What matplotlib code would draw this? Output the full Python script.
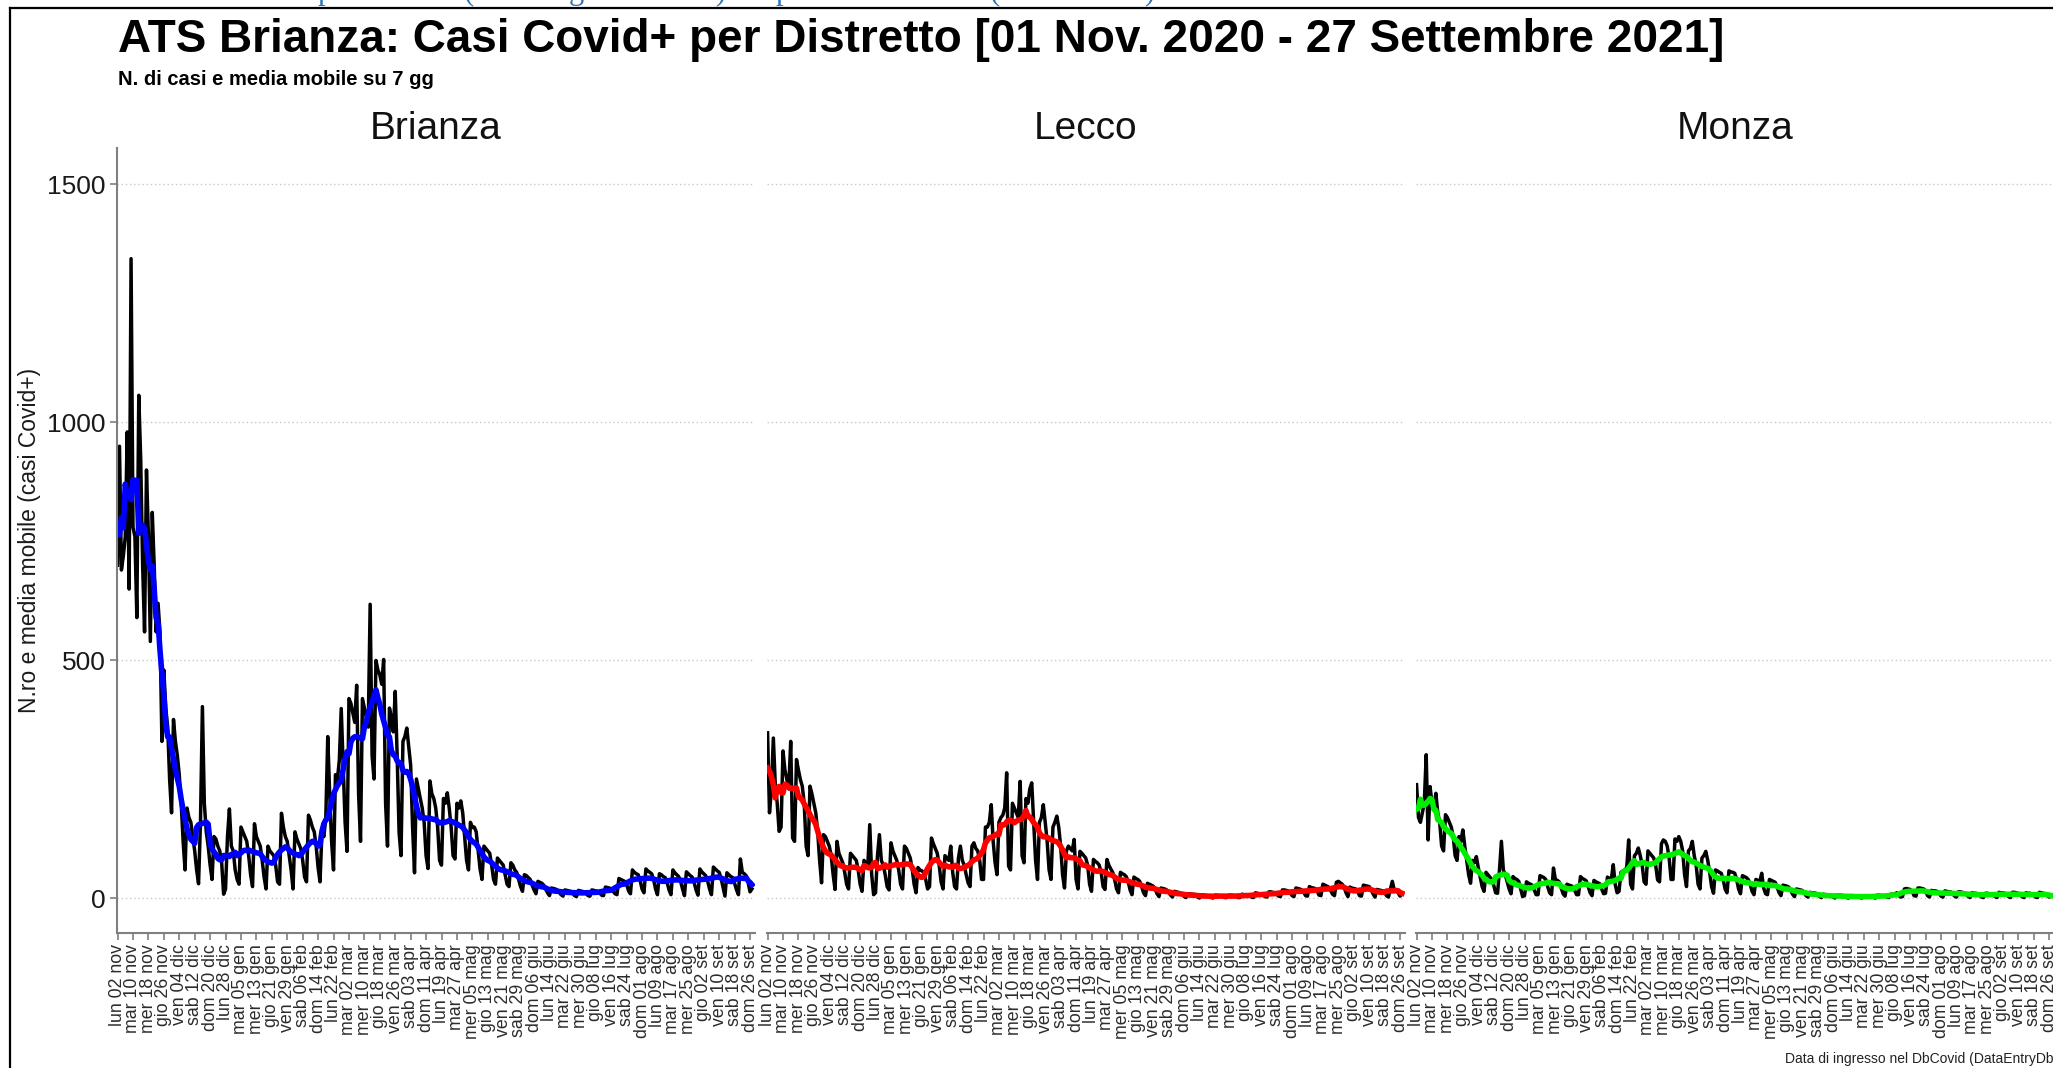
import matplotlib
matplotlib.use('Agg')
import matplotlib.pyplot as plt
from matplotlib.lines import Line2D
import pandas as pd

plt.rcParams['font.family'] = ['Liberation Sans', 'DejaVu Sans']

# casi giornalieri (da lun 02 nov 2020), una riga = una settimana lun..dom
brianza = [
    700, 950, 690, 720, 760, 980, 650,
    1344, 780, 760, 590, 1057, 923, 700,
    560, 900, 760, 540, 811, 700, 560,
    620, 560, 330, 480, 400, 360, 250,
    180, 376, 330, 300, 260, 200, 120,
    60, 190, 170, 160, 130, 100, 60,
    31, 160, 403, 200, 140, 110, 70,
    40, 130, 125, 110, 100, 75, 9,
    20, 130, 188, 110, 100, 60, 40,
    30, 150, 140, 130, 120, 90, 50,
    25, 157, 130, 120, 110, 80, 45,
    20, 110, 100, 95, 90, 70, 35,
    30, 179, 150, 130, 120, 90, 60,
    20, 140, 125, 115, 105, 80, 45,
    35, 175, 165, 150, 140, 110, 65,
    35, 140, 130, 170, 340, 220, 120,
    60, 260, 250, 290, 399, 280, 160,
    99, 420, 410, 390, 370, 448, 220,
    120, 420, 400, 380, 360, 618, 300,
    251, 500, 480, 470, 450, 502, 200,
    110, 400, 380, 350, 435, 300, 139,
    90, 330, 340, 358, 320, 280, 150,
    54, 251, 230, 210, 190, 160, 90,
    63, 247, 220, 210, 190, 150, 80,
    70, 210, 200, 222, 190, 150, 90,
    83, 200, 190, 205, 180, 130, 80,
    60, 160, 149, 150, 140, 100, 62,
    40, 110, 105, 100, 95, 70, 40,
    30, 85, 80, 75, 70, 50, 30,
    25, 75, 70, 60, 55, 40, 25,
    15, 50, 48, 44, 40, 28, 18,
    10, 36, 34, 32, 28, 20, 12,
    6, 22, 21, 20, 18, 13, 8,
    5, 18, 17, 16, 15, 11, 6,
    4, 17, 16, 15, 14, 10, 6,
    5, 18, 17, 16, 15, 12, 7,
    6, 24, 23, 22, 20, 15, 10,
    8, 42, 40, 38, 36, 30, 16,
    10, 60, 55, 52, 50, 38, 20,
    12, 62, 58, 55, 52, 40, 20,
    8, 52, 50, 46, 44, 34, 18,
    8, 60, 54, 50, 46, 36, 20,
    6, 56, 52, 48, 45, 34, 18,
    7, 62, 56, 52, 48, 37, 20,
    8, 66, 62, 58, 55, 42, 24,
    5, 54, 50, 46, 44, 32, 18,
    8, 83, 55, 52, 48, 34, 14,
    20]

lecco = [
    348, 180, 230, 337, 240, 200, 141,
    150, 310, 270, 250, 230, 330, 127,
    120, 292, 270, 250, 236, 200, 110,
    90, 236, 220, 200, 180, 140, 80,
    33, 134, 130, 120, 110, 90, 50,
    19, 120, 95, 85, 75, 55, 30,
    20, 95, 90, 85, 80, 60, 30,
    15, 80, 75, 70, 155, 50, 8,
    12, 90, 134, 80, 70, 50, 25,
    18, 117, 100, 90, 80, 60, 30,
    20, 110, 105, 95, 85, 62, 30,
    12, 65, 60, 58, 55, 40, 20,
    25, 127, 115, 105, 95, 70, 35,
    20, 90, 85, 80, 110, 55, 25,
    20, 85, 110, 80, 70, 50, 33,
    25, 110, 117, 105, 100, 80, 40,
    40, 150, 150, 160, 197, 120, 75,
    50, 160, 170, 175, 190, 264, 68,
    60, 200, 190, 180, 170, 246, 90,
    75, 210, 200, 230, 243, 160, 80,
    40, 160, 170, 197, 160, 120, 60,
    40, 150, 160, 173, 150, 110, 50,
    22, 100, 110, 105, 100, 124, 40,
    20, 99, 95, 90, 85, 70, 30,
    15, 82, 78, 75, 70, 55, 25,
    19, 82, 70, 62, 55, 40, 20,
    12, 55, 52, 50, 46, 36, 18,
    8, 45, 42, 40, 36, 25, 12,
    6, 32, 30, 28, 26, 20, 10,
    4, 22, 21, 20, 18, 13, 7,
    3, 15, 14, 13, 12, 9, 4,
    2, 10, 10, 9, 9, 6, 3,
    1, 8, 7, 7, 6, 4, 2,
    1, 7, 7, 6, 6, 5, 2,
    2, 7, 7, 7, 6, 4, 2,
    2, 9, 8, 8, 7, 5, 3,
    2, 12, 11, 10, 10, 7, 4,
    3, 14, 14, 13, 12, 9, 5,
    4, 18, 18, 17, 16, 12, 6,
    4, 22, 21, 20, 18, 14, 6,
    5, 25, 23, 22, 21, 16, 7,
    6, 30, 28, 26, 24, 17, 9,
    6, 34, 36, 33, 30, 24, 12,
    4, 24, 22, 21, 20, 15, 6,
    5, 28, 27, 26, 25, 19, 10,
    3, 19, 18, 17, 16, 12, 6,
    3, 20, 36, 18, 17, 12, 5,
    10]

monza = [
    239, 170, 160, 180, 200, 302, 123,
    235, 200, 190, 221, 180, 160, 110,
    100, 176, 170, 160, 150, 130, 90,
    80, 130, 120, 144, 110, 80, 50,
    32, 80, 75, 88, 65, 45, 25,
    15, 55, 50, 45, 40, 28, 12,
    11, 60, 120, 60, 50, 35, 20,
    10, 46, 42, 40, 36, 20, 4,
    6, 35, 32, 30, 28, 18, 8,
    8, 48, 46, 44, 40, 25, 12,
    8, 64, 40, 38, 35, 22, 10,
    5, 30, 28, 27, 25, 17, 8,
    8, 46, 42, 40, 37, 25, 12,
    6, 38, 35, 33, 31, 20, 10,
    11, 45, 42, 40, 71, 30, 12,
    15, 55, 58, 60, 65, 123, 30,
    20, 90, 95, 106, 90, 70, 35,
    30, 100, 95, 90, 85, 70, 39,
    35, 115, 123, 120, 110, 85, 40,
    40, 125, 120, 130, 120, 100, 50,
    25, 100, 105, 120, 90, 70, 30,
    20, 85, 90, 99, 80, 55, 25,
    11, 60, 58, 55, 53, 40, 20,
    12, 58, 56, 55, 53, 40, 20,
    10, 48, 46, 44, 40, 30, 15,
    8, 40, 38, 36, 53, 22, 10,
    8, 40, 38, 36, 34, 24, 12,
    6, 28, 27, 26, 24, 18, 9,
    4, 20, 19, 18, 17, 12, 6,
    3, 13, 12, 12, 11, 8, 4,
    2, 9, 8, 8, 7, 5, 3,
    1, 7, 7, 7, 6, 4, 2,
    1, 6, 6, 5, 5, 3, 2,
    1, 6, 5, 5, 5, 4, 2,
    1, 7, 7, 6, 6, 5, 3,
    2, 9, 9, 9, 12, 7, 3,
    4, 20, 21, 20, 19, 15, 6,
    5, 22, 22, 21, 20, 16, 6,
    3, 17, 16, 16, 15, 11, 5,
    3, 16, 15, 14, 14, 10, 5,
    3, 14, 14, 13, 12, 9, 5,
    2, 12, 11, 11, 10, 7, 3,
    2, 11, 11, 10, 10, 8, 4,
    2, 13, 12, 12, 11, 8, 4,
    2, 13, 13, 12, 11, 8, 4,
    2, 12, 11, 11, 10, 7, 3,
    2, 13, 12, 11, 10, 7, 3,
    5]

distretti = ['Brianza', 'Lecco', 'Monza']
serie = [brianza, lecco, monza]
colori = ['#0000ff', '#ff0000', '#00ee00']

giorni = ['lun', 'mar', 'mer', 'gio', 'ven', 'sab', 'dom']
mesi = ['gen', 'feb', 'mar', 'apr', 'mag', 'giu', 'lug', 'ago', 'set', 'ott', 'nov', 'dic']
tick_dates = pd.date_range('2020-11-02', '2021-09-26', freq='8D')
tick_labels = [f"{giorni[d.weekday()]} {d.day:02d} {mesi[d.month - 1]}" for d in tick_dates]

W, H = 2053, 1068
fig = plt.figure(figsize=(W / 100, H / 100), dpi=100)

def fx(px):
    return px / W

def fy(py):
    return 1 - py / H

panel_left = [117, 767, 1416]
panel_w = 638
top, bottom = 148, 933
grigio = '#7f7f7f'

for i in range(3):
    vals = serie[i]
    ax = fig.add_axes([fx(panel_left[i]), fy(bottom), panel_w / W, (bottom - top) / H])
    date = pd.date_range('2020-11-02', periods=len(vals), freq='D')
    s = pd.Series(vals, index=date)
    media = s.rolling(7, center=True, min_periods=1).mean()

    ax.plot(date, s.values, color='black', lw=2.5)
    ax.plot(date, media.values, color=colori[i], lw=4.0)

    ax.set_xlim(pd.Timestamp('2020-11-02') - pd.Timedelta(hours=7),
                pd.Timestamp('2021-09-26') + pd.Timedelta(hours=62))
    ax.set_ylim(-72.5, 1576.5)
    ax.set_yticks([0, 500, 1000, 1500])
    ax.grid(axis='y', ls=(0, (1, 2)), color='#c8c8c8', lw=1.0)
    ax.set_axisbelow(True)

    ax.set_xticks(tick_dates)
    ax.set_xticklabels(tick_labels, rotation=90, fontsize=12.8, color='#2b2b2b')
    ax.tick_params(axis='x', length=5, width=1.2, color=grigio, pad=3)

    for sp in ['top', 'right']:
        ax.spines[sp].set_visible(False)
    ax.spines['bottom'].set_color(grigio)
    ax.spines['bottom'].set_linewidth(1.5)

    if i == 0:
        ax.spines['left'].set_color(grigio)
        ax.spines['left'].set_linewidth(1.5)
        ax.tick_params(axis='y', length=5, width=1.2, color=grigio, pad=3,
                       labelsize=19, labelcolor='#1a1a1a')
    else:
        ax.spines['left'].set_visible(False)
        ax.tick_params(axis='y', left=False, labelleft=False)

    fig.text(fx(panel_left[i] + panel_w / 2), fy(139), distretti[i],
             ha='center', va='baseline', fontsize=28, color='#111111')

fig.text(fx(118), fy(52),
         'ATS Brianza: Casi Covid+ per Distretto [01 Nov. 2020 - 27 Settembre 2021]',
         fontsize=33, fontweight='bold', va='baseline')
fig.text(fx(118), fy(85), 'N. di casi e media mobile su 7 gg',
         fontsize=14.5, fontweight='bold', va='baseline')
fig.text(fx(30), fy(540), 'N.ro e media mobile (casi Covid+)', rotation=90,
         ha='center', va='center', fontsize=16.5, color='#1a1a1a')
fig.text(fx(1785), fy(1063), 'Data di ingresso nel DbCovid (DataEntryDb)',
         fontsize=10, va='baseline', color='#222222')

# bordo della schermata
fig.add_artist(Line2D([fx(10), fx(10)], [fy(8), 0], color='black', lw=1.6))
fig.add_artist(Line2D([fx(10), 1], [fy(8), fy(8)], color='black', lw=1.6))

# frammenti di testo blu tagliati in alto
for x, ch in [(325, 'p'), (469, '('), (576, 'g'), (720, ')'), (783, 'p'), (995, '('), (1149, ')')]:
    fig.text(fx(x), fy(-1), ch, color='#2e75b6', fontsize=22, family='Liberation Serif',
             ha='center', va='baseline')

fig.savefig('out.png', dpi=100)
